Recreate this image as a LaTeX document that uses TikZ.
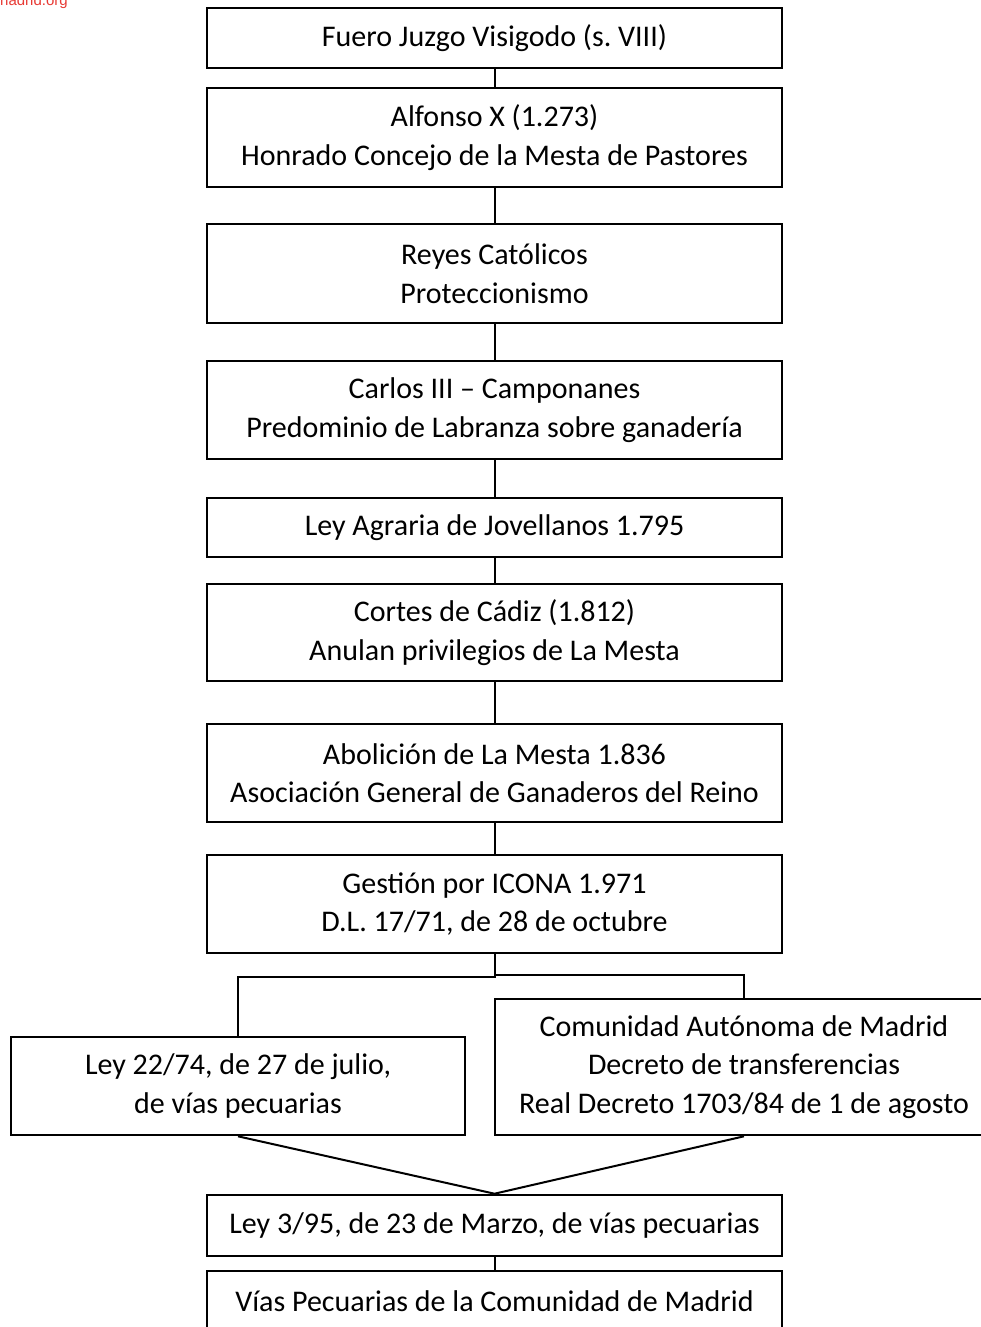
\documentclass[tikz,border=0pt]{standalone}
\usepackage{fontspec}
\setmainfont{Carlito}
\newfontfamily\webfont{Liberation Sans}
\definecolor{webred}{HTML}{E83A34}
\frenchspacing
\begin{document}
\begin{tikzpicture}[x=1pt,y=-1pt,
  box/.style={draw=black, line width=2.6pt, inner sep=0pt, align=center,
    minimum width=575pt, font=\fontsize{30}{38.5}\selectfont},
  link/.style={draw=black, line width=2pt}]
\useasboundingbox (0,0) rectangle (981,1327);
\clip (0,0) rectangle (981,1327);
\fill[white] (0,0) rectangle (981,1327);

\node[anchor=base west, text=webred, font=\webfont\fontsize{15}{18}\selectfont, inner sep=0pt] (web) at (0,5.7) {nadrid.org};

\node[box, minimum height=60pt] (b1) at (494.5,38) {\raisebox{-2pt}{Fuero Juzgo Visigodo (s. VIII)}};
\node[box, minimum height=99pt] (b2) at (494.5,137.5) {Alfonso X (1.273)\\Honrado Concejo de la Mesta de Pastores};
\node[box, minimum height=99pt] (b3) at (494.5,273.5) {Reyes Católicos\\Proteccionismo};
\node[box, minimum height=98pt] (b4) at (494.5,410) {Carlos III – Camponanes\\Predominio de Labranza sobre ganadería};
\node[box, minimum height=59pt] (b5) at (494.5,527.5) {Ley Agraria de Jovellanos 1.795};
\node[box, minimum height=97pt] (b6) at (494.5,632.5) {Cortes de Cádiz (1.812)\\Anulan privilegios de La Mesta};
\node[box, minimum height=98pt] (b7) at (494.5,773) {Abolición de La Mesta 1.836\\Asociación General de Ganaderos del Reino};
\node[box, minimum height=98pt] (b8) at (494.5,904) {Gestión por ICONA 1.971\\D.L. 17/71, de 28 de octubre};
\node[box, minimum width=454pt, minimum height=98pt] (bl) at (238,1086) {Ley 22/74, de 27 de julio,\\de vías pecuarias};
\node[box, minimum width=498pt, minimum height=136pt] (br) at (744,1067) {Comunidad Autónoma de Madrid\\Decreto de transferencias\\Real Decreto 1703/84 de 1 de agosto};
\node[box, minimum height=61pt] (b9) at (494.5,1225.5) {Ley 3/95, de 23 de Marzo, de vías pecuarias};
\node[box, minimum height=60pt] (b10) at (494.5,1301) {Vías Pecuarias de la Comunidad de Madrid};

\draw[link] (b1.south) -- (b2.north);
\draw[link] (b2.south) -- (b3.north);
\draw[link] (b3.south) -- (b4.north);
\draw[link] (b4.south) -- (b5.north);
\draw[link] (b5.south) -- (b6.north);
\draw[link] (b6.south) -- (b7.north);
\draw[link] (b7.south) -- (b8.north);
\coordinate (jl) at (494.5,977);
\coordinate (jr) at (494.5,975);
\draw[link] (b8.south) -- (jl) -| (bl.north);
\draw[link] (jr) -| (br.north);
\draw[link] (bl.south) -- (b9.north) -- (br.south);
\draw[link] (b9.south) -- (b10.north);
\end{tikzpicture}
\end{document}
